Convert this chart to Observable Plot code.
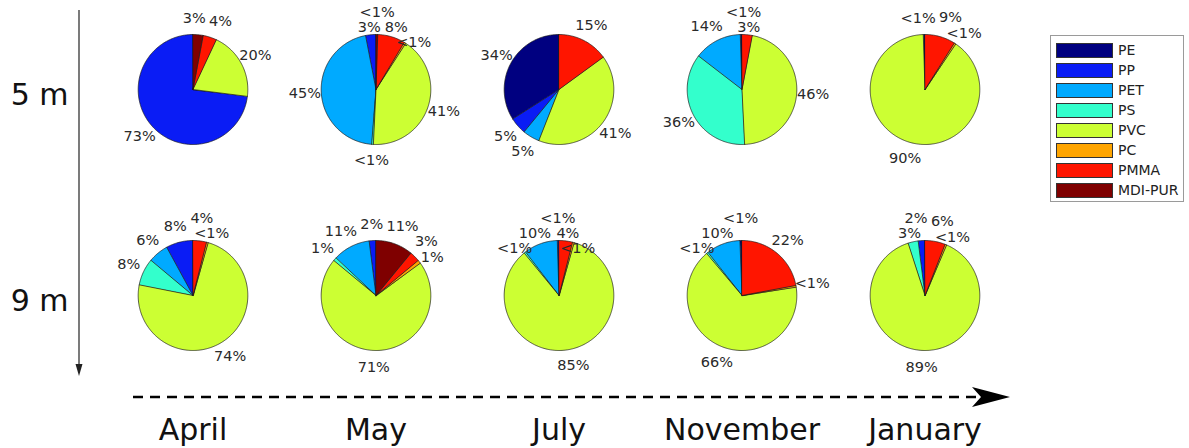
<!DOCTYPE html>
<html><head><meta charset="utf-8">
<script src="https://cdn.jsdelivr.net/npm/d3@7"></script>
<script src="https://cdn.jsdelivr.net/npm/@observablehq/plot@0.6"></script>
<style>
body{margin:0;background:#fff;font-family:"DejaVu Sans",sans-serif;}
#wrap{position:relative;width:1189px;height:448px;overflow:hidden;}
.legend{position:absolute;left:1050px;top:35px;width:134px;height:167px;border:1px solid #9a9a9a;box-sizing:border-box;padding-top:4px;background:#fff;}
.item{display:flex;align-items:center;height:20px;font-size:14px;color:#222;padding-left:5px;}
.sw{width:55px;height:13px;border:1px solid #333;margin-right:5px;}
</style></head><body><div id="wrap"></div>
<script>
// ---------- data ----------
const polymers = ["PE","PP","PET","PS","PVC","PC","PMMA","MDI-PUR"];
const colors   = ["#000080","#0a1cf5","#00aaff","#33ffcc","#ccff33","#ffa500","#ff1500","#7f0000"];
const months   = ["April","May","July","November","January"];
const depths   = ["5 m","9 m"];
// shares (%) in polymer order; 0.5 marks a "<1%" slice
const april5m    = [0, 73, 0, 0, 20, 0, 4, 3];
const may5m      = [0, 3, 45, 0.5, 41, 0.5, 8, 0.5];
const july5m     = [34, 5, 5, 0, 41, 0, 15, 0];
const november5m = [0.5, 0, 14, 36, 46, 0, 3, 0];
const january5m  = [0.5, 0, 0, 0, 90, 0.5, 9, 0];
const april9m    = [0, 8, 6, 8, 74, 0.5, 4, 0];
const may9m      = [0, 2, 11, 1, 71, 1, 3, 11];
const july9m     = [0, 0.5, 10, 0.5, 85, 0.5, 4, 0];
const november9m = [0.6, 0, 10, 0.5, 66, 0.5, 22, 0];
const january9m  = [0, 2, 0, 3, 89, 0.5, 6, 0];
const shares5m = [april5m, may5m, july5m, november5m, january5m];
const shares9m = [april9m, may9m, july9m, november9m, january9m];

// ---------- layout ----------
const W = 1189, H = 448, mL = 99, mR = 172, mT = 0, mB = 36;
const cellW = (W - mL - mR) / months.length;
const cellH = (H - mT - mB) / depths.length;
const centreFromTop = 89;
const R = 55, LR = 1.3 * R, FS = 14.5;

const pie = d3.pie().sort(null).value(d => d.v).startAngle(0).endAngle(-2 * Math.PI);
const verts = [], labels = [];
const charW = c => c === "%" ? 0.95 : c === "<" ? 0.838 : 0.636;

[shares5m, shares9m].forEach((rows, di) => {
  rows.forEach((arr, mi) => {
    const depth = depths[di], month = months[mi];
    const items = polymers.map((p, i) => ({p, v: arr[i]})).filter(d => d.v > 0);
    const arcs = pie(items);
    const labs = [];
    arcs.forEach(a => {
      const id = depth + "|" + month + "|" + a.data.p;
      verts.push({id, fx: month, fy: depth, x: 0, y: 0, polymer: a.data.p});
      const span = a.endAngle - a.startAngle;
      const n = Math.max(2, Math.ceil(Math.abs(span) / (Math.PI / 180)));
      for (let j = 0; j <= n; ++j) {
        const t = a.startAngle + span * j / n;
        verts.push({id, fx: month, fy: depth, x: R * Math.sin(t), y: R * Math.cos(t), polymer: a.data.p});
      }
      const mid = (a.startAngle + a.endAngle) / 2;
      const text = a.data.v < 1 ? "<1%" : Math.round(a.data.v) + "%";
      const w = FS * [...text].reduce((s, c) => s + charW(c), 0) + 3;
      labs.push({fx: month, fy: depth, x: LR * Math.sin(mid), y: LR * Math.cos(mid), text, w, h: FS * 1.05});
    });
    const yMax = centreFromTop - FS * 0.6 - 3; // keep labels inside the top edge
    // overlap relaxation: separate along the axis of least overlap
    for (let it = 0; it < 300; ++it) {
      let moved = false;
      for (let i = 0; i < labs.length; ++i) for (let j = i + 1; j < labs.length; ++j) {
        const A = labs[i], B = labs[j];
        const ox = (A.w + B.w) / 2 - Math.abs(A.x - B.x);
        const oy = (A.h + B.h) / 2 - Math.abs(A.y - B.y);
        if (ox > 0 && oy > 0) {
          moved = true;
          if (ox < oy) {
            const s = Math.sign(B.x - A.x) || 1; A.x -= s * (ox / 2 + 0.2); B.x += s * (ox / 2 + 0.2);
          } else {
            const s = Math.sign(B.y - A.y) || Math.sign(B.y) || 1;
            A.y -= s * (oy / 2 + 0.2); B.y += s * (oy / 2 + 0.2);
          }
        }
      }
      labs.forEach(l => { if (l.y > yMax) { l.y = yMax; } });
      if (!moved) break;
    }
    labels.push(...labs);
  });
});

const chart = Plot.plot({
  width: W, height: H,
  marginLeft: mL, marginRight: mR, marginTop: mT, marginBottom: mB,
  facet: {marginTop: 0, marginRight: 0, marginBottom: 0, marginLeft: 0},
  fx: {domain: months, padding: 0},
  fy: {domain: depths, padding: 0},
  x: {domain: [-cellW / 2, cellW / 2], axis: null},
  y: {domain: [-(cellH - centreFromTop), centreFromTop], axis: null},
  color: {domain: polymers, range: colors},
  style: {fontFamily: "DejaVu Sans", fontSize: "14.5px", background: "white", color: "#222", overflow: "visible"},
  marks: [
    Plot.line(verts, {fx: "fx", fy: "fy", x: "x", y: "y", z: "id", fill: "polymer",
      stroke: "#1a1a1a", strokeWidth: 0.7, curve: "linear-closed", strokeLinejoin: "round"}),
    Plot.text(labels, {fx: "fx", fy: "fy", x: "x", y: "y", text: "text", fontSize: FS, fill: "#2a2a2a"}),
    Plot.axisFx({anchor: "bottom", tickSize: 0, tickPadding: 6, fontSize: 30, label: null, fill: "#111"}),
    Plot.axisFy({anchor: "left", tickSize: 0, tickPadding: 33, fontSize: 30, label: null, dy: -8, fill: "#111"})
  ]
});

const svg = d3.select(chart);
const deco = svg.append("g");
deco.append("line").attr("x1", 79).attr("y1", 10).attr("x2", 79).attr("y2", 366)
  .attr("stroke", "#222").attr("stroke-width", 1.2);
deco.append("path").attr("d", "M75.5,364 L79,376 L82.5,364 Z").attr("fill", "#222");
deco.append("line").attr("x1", 133).attr("y1", 397).attr("x2", 978).attr("y2", 397)
  .attr("stroke", "#000").attr("stroke-width", 2.5).attr("stroke-dasharray", "10,7");
deco.append("path").attr("d", "M1010,397 L972,387 L981,397 L972,407 Z").attr("fill", "#000");

const wrap = document.getElementById("wrap");
wrap.appendChild(chart);
const legend = document.createElement("div");
legend.className = "legend";
polymers.forEach((p, i) => {
  const it = document.createElement("div"); it.className = "item";
  const sw = document.createElement("div"); sw.className = "sw"; sw.style.background = colors[i];
  const tx = document.createElement("span"); tx.textContent = p;
  it.appendChild(sw); it.appendChild(tx); legend.appendChild(it);
});
wrap.appendChild(legend);
</script></body></html>
